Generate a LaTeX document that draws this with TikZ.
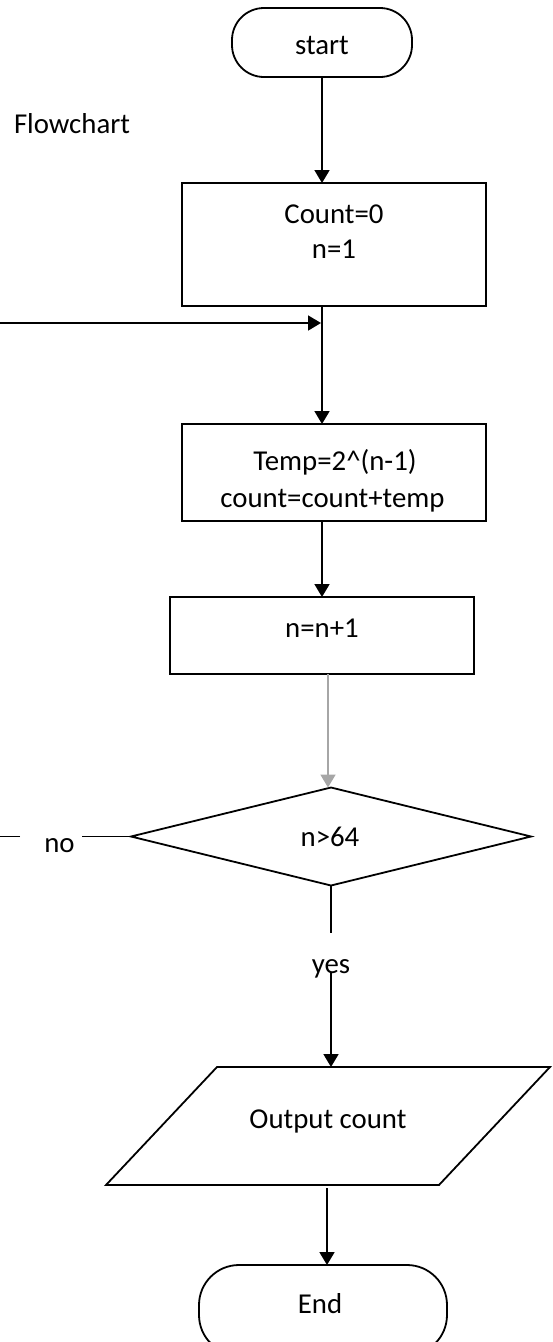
\documentclass[tikz,border=0pt]{standalone}
\usepackage{fontspec}
\setmainfont{Carlito}
\usetikzlibrary{arrows.meta,shapes.geometric}
\definecolor{arrgray}{RGB}{166,166,166}
\begin{document}
\begin{tikzpicture}[x=1pt,y=-1pt,
  line width=1.8pt,
  every node/.style={font=\fontsize{28.8}{34}\selectfont, inner sep=0pt, outer sep=0pt},
  txt/.style={anchor=base},
  procbox/.style={draw, rectangle},
  term/.style={draw, rectangle, rounded corners=#1},
  arr/.style={-{Triangle[length=13pt,width=15pt]}}
]
\useasboundingbox (0,0) rectangle (552,1342);

% title
\node[anchor=base west] (title) at (14,133) {Flowchart};

% start
\node[term=32pt, minimum width=180pt, minimum height=69pt] (start) at (322,42.5) {};
\node[txt] (startt) at (322,54) {start};

% box 1
\node[procbox, minimum width=304pt, minimum height=123pt] (b1) at (334,244.5) {};
\node[txt] (b1a) at (334,223) {Count=0};
\node[txt] (b1b) at (334,258) {n=1};

% box 2
\node[procbox, minimum width=304pt, minimum height=97pt] (b2) at (334,472.5) {};
\node[txt] (b2a) at (335,470) {Temp=2\^{}(n-1)};
\node[txt] (b2b) at (332.5,507) {count=count+temp};

% box 3
\node[procbox, minimum width=304pt, minimum height=77pt] (b3) at (322,635.5) {};
\node[txt] (b3a) at (322,637) {n=n+1};

% decision
\node[draw, diamond, minimum width=400pt, minimum height=98pt] (dec) at (331,836.5) {};
\node[txt] (deca) at (330,846) {n>64};

% no branch
\node[txt] (no) at (59.5,852) {no};
\coordinate (noR) at (82,836.5);
\coordinate (noL) at (20,836.5);
\coordinate (edgeL) at (0,836.5);

% yes branch
\node[txt] (yes) at (331,973) {yes};
\coordinate (yesTop) at (331,933);
\coordinate (yesBot) at (331,972);

% output parallelogram
\coordinate (pTL) at (217,1067);
\coordinate (pTR) at (550,1067);
\coordinate (pBR) at (439,1185);
\coordinate (pBL) at (106,1185);
\coordinate (pTop) at (331,1067);
\coordinate (pBot) at (327,1188);
\draw (pTL) -- (pTR) -- (pBR) -- (pBL) -- cycle;
\node[txt] (outt) at (328,1128) {Output count};

% end
\node[term=40pt, minimum width=248pt, minimum height=90pt] (endn) at (323,1310) {};
\node[txt] (endt) at (320,1313) {End};

% loop-in arrow
\coordinate (loopL) at (0,323);
\coordinate (loopJ) at (321,323);

% connectors
\draw[arr] (start.south) -- (start.south |- b1.north);
\draw[arr] (start |- b1.south) -- (start |- b2.north);
\draw[arr] (loopL) -- (loopJ);
\draw[arr] (start |- b2.south) -- (start |- b3.north);
\draw[arr, arrgray] ([xshift=6pt]b3.south) -- ([xshift=6pt]b3.south |- dec.north);
\draw (dec.west) -- (noR);
\draw (noL) -- (edgeL);
\draw (dec.south) -- (yesTop);
\draw[arr] (yesBot) -- (pTop);
\draw[arr] (pBot) -- (pBot |- endn.north);
\end{tikzpicture}
\end{document}
